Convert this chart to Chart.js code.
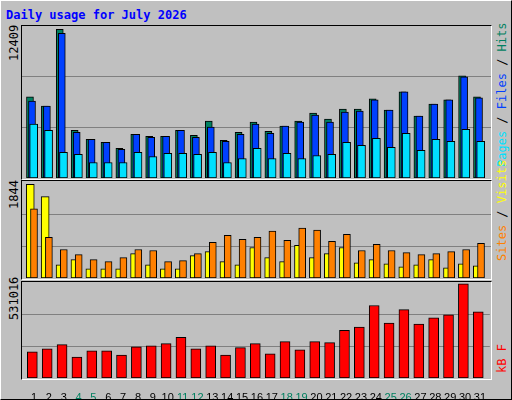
<!DOCTYPE html>
<html>
<head>
<meta charset="utf-8">
<script src="https://cdn.jsdelivr.net/npm/chart.js@4/dist/chart.umd.min.js"></script>
<style>
  body { margin: 0; background: #fff; }
  #frame { position: relative; width: 510px; height: 398px; background: #c0c0c0;
    border: 1px solid; border-color: #fff #000 #000 #fff; overflow: hidden; }
  .panel { position: absolute; left: 20px; width: 469px; border: 1px solid; border-color: #000 #fff #fff #000; }
  canvas { position: absolute; }
  .vtxt { position: absolute; transform-origin: 0 0; transform: rotate(-90deg); white-space: nowrap;
    font: 12px "DejaVu Sans Mono", monospace; }
  #title { position: absolute; left: 5px; top: 7px; font: bold 12px "DejaVu Sans Mono", monospace; color: #0000ff; }
</style>
</head>
<body>
<div id="frame">
  <div id="title">Daily usage for July 2026</div>
  <div class="panel" style="top:24px;height:153px"></div>
  <div class="panel" style="top:179px;height:98px"></div>
  <div class="panel" style="top:280px;height:97px"></div>
  <canvas id="c1" style="left:21px;top:25px"></canvas>
  <canvas id="c2" style="left:21px;top:180px"></canvas>
  <canvas id="c3" style="left:21px;top:281px"></canvas>
  <div class="vtxt" id="max1" style="left:6px;top:60px"></div>
  <div class="vtxt" id="max2" style="left:6px;top:208px"></div>
  <div class="vtxt" id="max3" style="left:6px;top:319px"></div>
  <div class="vtxt" style="left:494px;top:166px"><span style="color:#00e0ff">Pages</span> / <span style="color:#0040ff">Files</span> / <span style="color:#008060">Hits</span></div>
  <div class="vtxt" style="left:494px;top:260px"><span style="color:#ff8000">Sites</span> / <span style="color:#ffff00">Visits</span></div>
  <div class="vtxt" style="left:494px;top:372px;color:#ff0000">kB F</div>
</div>
<script>
// July 2026 daily numbers
const days = [1,2,3,4,5,6,7,8,9,10,11,12,13,14,15,16,17,18,19,20,21,22,23,24,25,26,27,28,29,30,31];
const weekendDays = [4,5,11,12,18,19,25,26];
const hits  = [6765,6007,12409,3986,3228,2975,2470,3649,3481,3481,3986,3565,4744,3144,3818,4660,3902,4323,4744,5418,4912,5754,5754,6596,5670,7186,5165,6175,6512,8533,6765];
const files = [6428,6007,12070,3818,3228,2975,2386,3649,3396,3481,3986,3396,4239,3060,3649,4491,3733,4323,4660,5249,4660,5502,5586,6512,5670,7186,5165,6175,6512,8449,6681];
const pages = [4491,3986,2133,1965,1291,1291,1291,2133,1796,2049,2049,1965,2133,1291,1628,2470,1628,2049,1628,1881,1965,2975,2723,3312,2554,3733,2302,3228,3060,4070,3060];
const visits = [1844,1603,261,361,180,180,180,481,261,180,180,441,521,321,261,601,401,321,641,401,481,601,301,361,281,220,261,361,200,281,240];
const sites  = [1363,802,561,461,361,321,401,561,541,321,341,481,701,842,762,802,922,741,982,942,721,862,541,661,541,501,461,481,521,561,681];
const kbytes = [147000,165000,188000,118000,153000,153000,130000,176000,182000,194000,229000,165000,182000,130000,171000,194000,136000,205000,159000,205000,200000,269000,287000,409000,310000,386000,304000,339000,357000,531016,374000];

document.getElementById('max1').textContent = Math.max(...hits);
document.getElementById('max2').textContent = Math.max(...visits);
document.getElementById('max3').textContent = Math.max(...kbytes);

function pts(values, shift) {
  return values.map((v, i) => ({ x: days[i] + shift, y: v }));
}

// first dataset is painted on top
function bars(values, shift, color, width) {
  return { data: pts(values, shift), backgroundColor: color, borderColor: '#000',
    borderWidth: 1, borderSkipped: false, barThickness: width, grouped: false };
}

function makeChart(id, w, h, datasets, top, headroom, showDays) {
  const cv = document.getElementById(id);
  cv.width = w; cv.height = h;
  cv.style.width = w + 'px'; cv.style.height = h + 'px';
  return new Chart(cv, {
    type: 'bar',
    data: { datasets: datasets },
    options: {
      responsive: false, animation: false, devicePixelRatio: 1,
      layout: { padding: 0 },
      plugins: { legend: { display: false }, tooltip: { enabled: false } },
      scales: {
        x: {
          type: 'linear', min: 0.195, max: 31.67, offset: false,
          display: showDays,
          border: { display: false },
          grid: { display: false },
          afterBuildTicks: s => { s.ticks = days.map(d => ({ value: d })); },
          afterFit: s => { s.height = showDays ? 21 : 0; },
          ticks: {
            padding: 5, autoSkip: false, maxRotation: 0,
            font: { family: 'Liberation Sans', size: 11 },
            color: c => weekendDays.includes(c.tick.value) ? '#008060' : '#000'
          }
        },
        y: {
          display: true, min: 0, max: top * headroom,
          border: { display: false },
          afterFit: s => { s.width = 0; },
          afterBuildTicks: s => { s.ticks = [{ value: top * 0.34 }, { value: top * 0.68 }]; },
          ticks: { display: false },
          grid: { color: '#808080', lineWidth: 1, drawTicks: false }
        }
      }
    }
  });
}

makeChart('c1', 469, 152, [
  bars(pages, -0.02, '#00e0ff', 8),
  bars(files, -0.134, '#0040ff', 7),
  bars(hits, -0.27, '#008060', 7)
], Math.max(...hits), 1.022, false);

makeChart('c2', 469, 97, [
  bars(sites, 0, '#ff8000', 7),
  bars(visits, -0.25, '#ffff00', 8)
], Math.max(...visits), 1.036, false);

makeChart('c3', 469, 96 + 21, [
  bars(kbytes, -0.11, '#ff0000', 10)
], Math.max(...kbytes), 1.02, true);
</script>
</body>
</html>
